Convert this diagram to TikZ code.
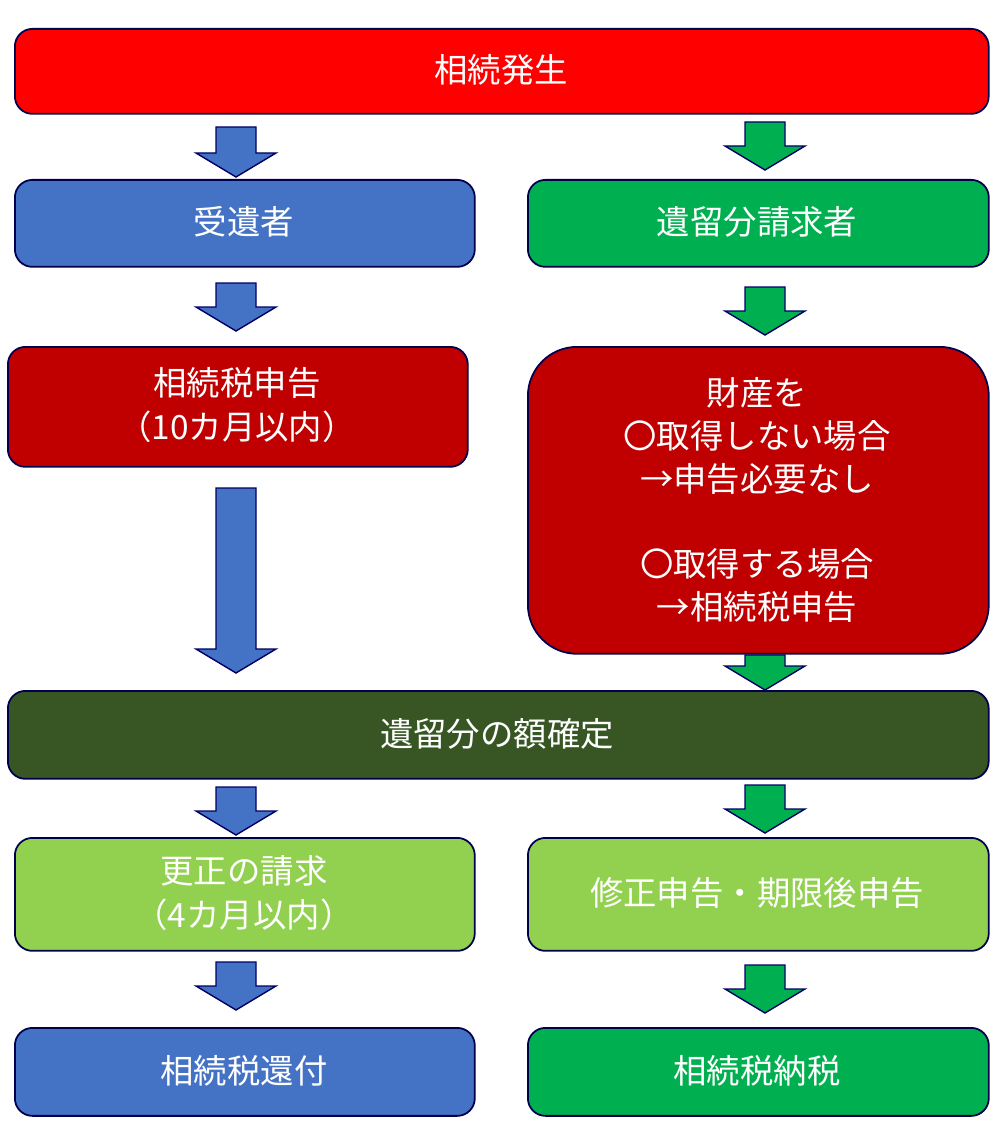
\documentclass[tikz,border=0pt]{standalone}
\usepackage{fontspec}
\setmainfont{Noto Sans CJK JP}
\begin{document}
\begin{tikzpicture}[x=0.02cm,y=-0.02cm,
 box/.style={draw=black!70!blue,line width=1pt,rounded corners=10pt,text=white,font=\fontsize{19}{25}\selectfont,align=center},
 barr/.style={draw=black!60!blue,line width=0.8pt,fill=#1}]
\useasboundingbox (0,0) rectangle (1000,1125);
\newcommand\boxat[6]{\node[box,fill=#5,minimum width={(#3-#1)*0.02cm},minimum height={(#4-#2)*0.02cm},anchor=north west] (#6) at (#1,#2) {};}
\definecolor{cred}{HTML}{FF0000}\definecolor{cblue}{HTML}{4472C4}\definecolor{cgreen}{HTML}{00B050}
\definecolor{cdred}{HTML}{C00000}\definecolor{cdgreen}{HTML}{375623}\definecolor{clgreen}{HTML}{92D050}
\newcommand\blk[5]{\node[box,fill=#5,minimum width={(#3-#1)*0.02cm},minimum height={(#4-#2)*0.02cm},anchor=north west] at (#1,#2) {};}
\node[box,fill=cred,minimum width=19.48cm,minimum height=1.7cm,anchor=north west] (a) at (14,28) {};
\node[text=white,font=\fontsize{19}{25}\selectfont] at (501,70) {相続発生};
\node[box,fill=cblue,minimum width=9.2cm,minimum height=1.74cm,anchor=north west] (b) at (14,179) {};
\node[text=white,font=\fontsize{19}{25}\selectfont] at (244,222) {受遺者};
\node[box,fill=cgreen,minimum width=9.22cm,minimum height=1.74cm,anchor=north west] (c) at (527,179) {};
\node[text=white,font=\fontsize{19}{25}\selectfont] at (757,222) {遺留分請求者};
\node[box,fill=cdred,minimum width=9.2cm,minimum height=2.4cm,anchor=north west] (d) at (7,346) {};
\node[text=white,font=\fontsize{19}{25}\selectfont,align=center] at (237,405) {相続税申告\\（10カ月以内）};
\node[box,fill=cdred,rounded corners=28pt,minimum width=9.22cm,minimum height=6.14cm,anchor=north west] (e) at (527,346) {};
\node[text=white,font=\fontsize{19}{24.3}\selectfont,align=center] at (757,500) {財産を\\〇取得しない場合\\→申告必要なし\\[24.3pt]〇取得する場合\\→相続税申告};
\node[box,fill=cdgreen,minimum width=19.62cm,minimum height=1.76cm,anchor=north west] (f) at (7,690) {};
\node[text=white,font=\fontsize{19}{25}\selectfont] at (497,734) {遺留分の額確定};
\node[box,fill=clgreen,minimum width=9.2cm,minimum height=2.26cm,anchor=north west] (g) at (14,837) {};
\node[text=white,font=\fontsize{19}{25}\selectfont,align=center] at (244,893) {更正の請求\\（4カ月以内）};
\node[box,fill=clgreen,minimum width=9.22cm,minimum height=2.26cm,anchor=north west] (h) at (527,837) {};
\node[text=white,font=\fontsize{19}{25}\selectfont] at (757,893) {修正申告・期限後申告};
\node[box,fill=cblue,minimum width=9.2cm,minimum height=1.76cm,anchor=north west] (i) at (14,1027) {};
\node[text=white,font=\fontsize{19}{25}\selectfont] at (244,1071) {相続税還付};
\node[box,fill=cgreen,minimum width=9.22cm,minimum height=1.76cm,anchor=north west] (j) at (527,1027) {};
\node[text=white,font=\fontsize{19}{25}\selectfont] at (757,1071) {相続税納税};
\newcommand\darr[4]{\draw[barr=#4] (#1-20,#2) -- (#1+20,#2) -- (#1+20,#3-24) -- (#1+40,#3-24) -- (#1,#3) -- (#1-40,#3-24) -- (#1-20,#3-24) -- cycle;}
\darr{236}{127}{177}{cblue}
\darr{236}{283}{331}{cblue}
\darr{236}{488}{673}{cblue}
\darr{236}{787}{835}{cblue}
\darr{236}{962}{1010}{cblue}
\darr{765}{122}{170}{cgreen}
\darr{765}{287}{335}{cgreen}
\darr{765}{655}{690}{cgreen}
\darr{765}{785}{833}{cgreen}
\darr{765}{965}{1013}{cgreen}
\end{tikzpicture}
\end{document}
